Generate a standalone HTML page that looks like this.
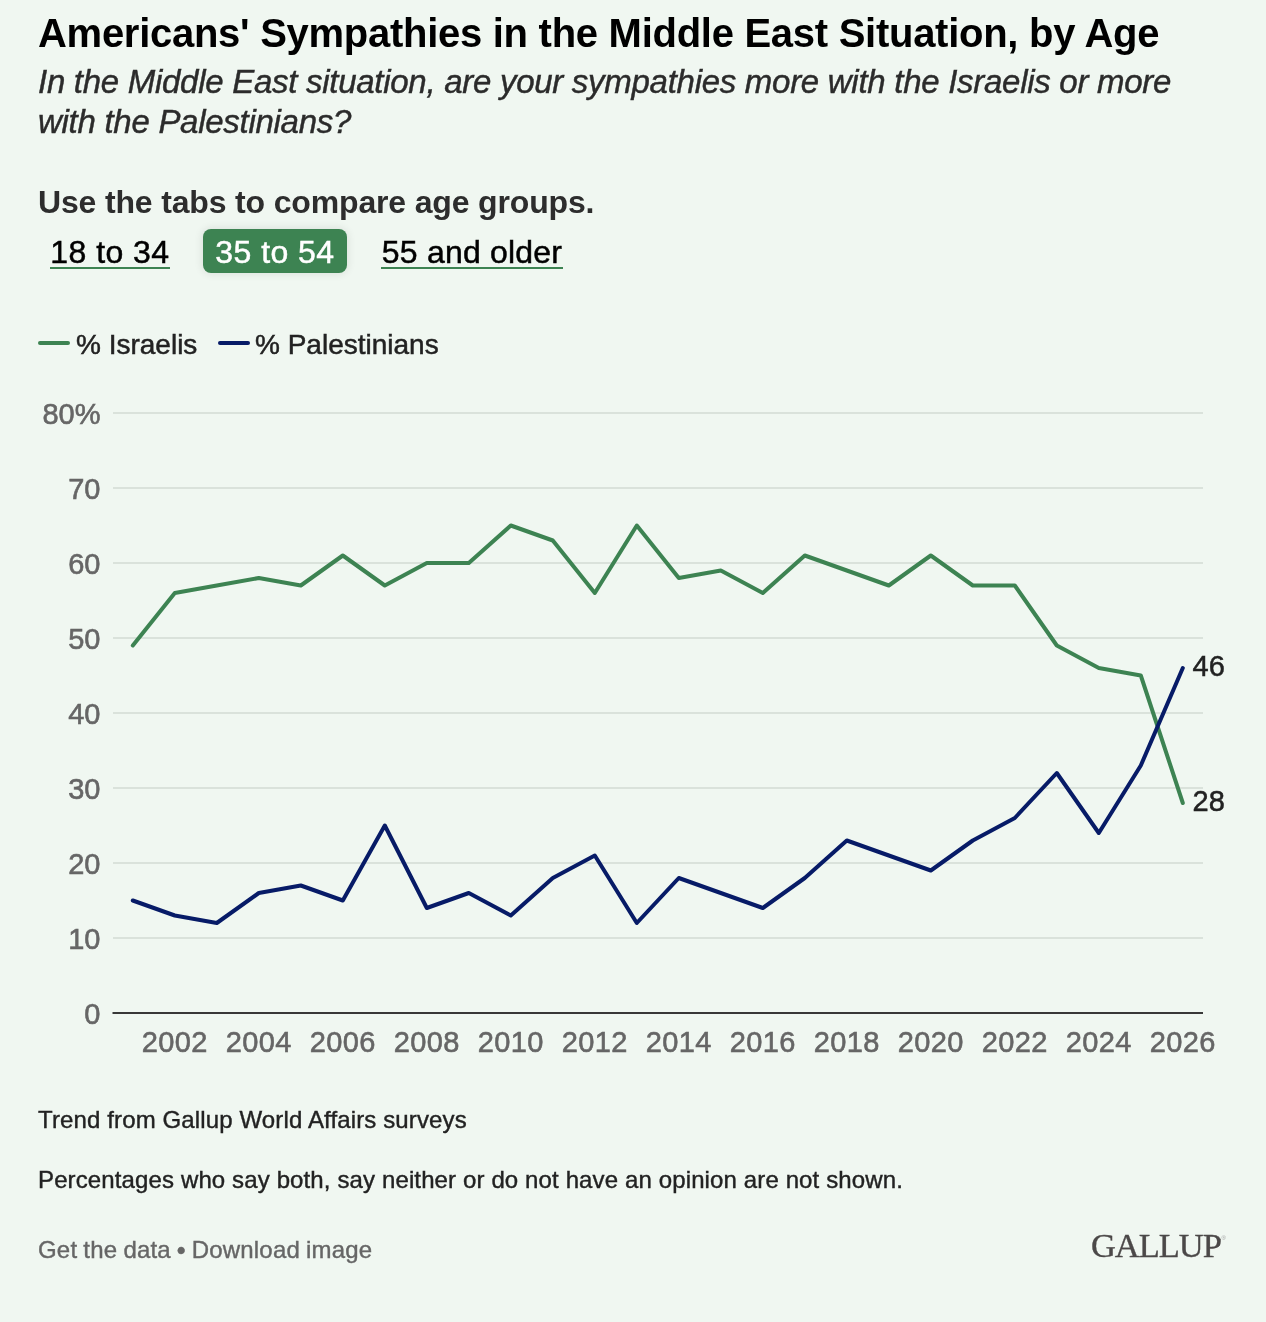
<!DOCTYPE html>
<html lang="en">
<head>
<meta charset="utf-8">
<title>Americans' Sympathies in the Middle East Situation, by Age</title>
<style>
html,body{margin:0;padding:0;}
body{width:1266px;height:1322px;background:#f0f7f1;overflow:hidden;position:relative;font-family:"Liberation Sans",sans-serif;color:#222;}
#page{position:absolute;left:0;top:0;width:1266px;height:1322px;will-change:transform;}
.abs{position:absolute;white-space:nowrap;margin:0;}
h1.abs{left:38px;top:10px;font-size:40px;line-height:46px;font-weight:bold;color:#000;letter-spacing:-0.275px;}
p.sub{left:38px;top:62px;font-size:33px;line-height:40px;font-style:italic;color:#2b2b2b;letter-spacing:-0.28px;-webkit-text-stroke:0.45px #2b2b2b;}
p.note{left:38px;top:183px;font-size:32px;line-height:38px;font-weight:bold;color:#2d2d2d;letter-spacing:-0.16px;}
.tab{font-size:32px;line-height:38px;color:#000;top:232.7px;letter-spacing:0.45px;-webkit-text-stroke:0.5px #000;}
.tab.t1{left:50px;width:120px;text-align:center;border-bottom:2px solid #3d8352;height:34.3px;}
.tab.t3{left:381px;width:182px;text-align:center;border-bottom:2px solid #3d8352;height:34.3px;letter-spacing:0.2px;}
.tab.t2{left:203px;top:229px;width:144px;height:44px;line-height:47.4px;text-align:center;background:#3d8352;color:#fff;border-radius:8px;box-shadow:0 0 9px 1px rgba(0,0,0,0.09);-webkit-text-stroke:0.5px #fff;}
.leg{font-size:28px;line-height:34px;top:327.7px;color:#222;-webkit-text-stroke:0.5px #222;}
.foot{font-size:24px;line-height:30px;left:38px;color:#222;-webkit-text-stroke:0.4px #222;}
.links{color:#666;-webkit-text-stroke:0.4px #666;}
.logo{font-family:"Liberation Serif",serif;font-size:34.5px;line-height:40px;left:1091px;top:1225.3px;color:#4b4848;letter-spacing:-1.05px;-webkit-text-stroke:0.35px #4b4848;}
.logo sup{font-family:"Liberation Sans",sans-serif;font-size:6px;letter-spacing:0;position:absolute;left:130.6px;top:-7px;color:#a0a0a0;-webkit-text-stroke:0;line-height:40px;}
svg{position:absolute;left:0;top:0;}
svg text{font-family:"Liberation Sans",sans-serif;}
</style>
</head>
<body>
<div id="page">
<h1 class="abs">Americans' Sympathies in the Middle East Situation, by Age</h1>
<p class="abs sub">In the Middle East situation, are your sympathies more with the Israelis or more<br>with the Palestinians?</p>
<p class="abs note">Use the tabs to compare age groups.</p>
<div class="abs tab t1">18 to 34</div>
<div class="abs tab t2">35 to 54</div>
<div class="abs tab t3">55 and older</div>
<div class="abs leg" style="left:76px">% Israelis</div>
<div class="abs leg" style="left:255px">% Palestinians</div>
<svg width="1266" height="1322" viewBox="0 0 1266 1322">
<g stroke-linecap="round" stroke-width="4" fill="none">
<line x1="40" x2="68" y1="343" y2="343" stroke="#3d8352"/>
<line x1="220" x2="248" y1="343" y2="343" stroke="#071b67"/>
</g>
<g stroke="#dae2db" stroke-width="2"><line x1="113" x2="1203" y1="938" y2="938"/><line x1="113" x2="1203" y1="863" y2="863"/><line x1="113" x2="1203" y1="788" y2="788"/><line x1="113" x2="1203" y1="713" y2="713"/><line x1="113" x2="1203" y1="638" y2="638"/><line x1="113" x2="1203" y1="563" y2="563"/><line x1="113" x2="1203" y1="488" y2="488"/><line x1="113" x2="1203" y1="413" y2="413"/></g>
<line x1="112.5" x2="1203" y1="1013" y2="1013" stroke="#383838" stroke-width="2"/>
<g font-size="29" fill="#666" stroke="#666" stroke-width="0.6"><text x="100.5" y="1024.2" text-anchor="end">0</text><text x="100.5" y="949.2" text-anchor="end">10</text><text x="100.5" y="874.2" text-anchor="end">20</text><text x="100.5" y="799.2" text-anchor="end">30</text><text x="100.5" y="724.2" text-anchor="end">40</text><text x="100.5" y="649.2" text-anchor="end">50</text><text x="100.5" y="574.2" text-anchor="end">60</text><text x="100.5" y="499.2" text-anchor="end">70</text><text x="100.5" y="424.2" text-anchor="end">80%</text><text x="174.8" y="1052.3" text-anchor="middle" letter-spacing="0.4">2002</text><text x="258.8" y="1052.3" text-anchor="middle" letter-spacing="0.4">2004</text><text x="342.8" y="1052.3" text-anchor="middle" letter-spacing="0.4">2006</text><text x="426.8" y="1052.3" text-anchor="middle" letter-spacing="0.4">2008</text><text x="510.8" y="1052.3" text-anchor="middle" letter-spacing="0.4">2010</text><text x="594.8" y="1052.3" text-anchor="middle" letter-spacing="0.4">2012</text><text x="678.8" y="1052.3" text-anchor="middle" letter-spacing="0.4">2014</text><text x="762.8" y="1052.3" text-anchor="middle" letter-spacing="0.4">2016</text><text x="846.8" y="1052.3" text-anchor="middle" letter-spacing="0.4">2018</text><text x="930.8" y="1052.3" text-anchor="middle" letter-spacing="0.4">2020</text><text x="1014.8" y="1052.3" text-anchor="middle" letter-spacing="0.4">2022</text><text x="1098.8" y="1052.3" text-anchor="middle" letter-spacing="0.4">2024</text><text x="1182.8" y="1052.3" text-anchor="middle" letter-spacing="0.4">2026</text></g>
<polyline points="132.8,645.5 174.8,593.0 216.8,585.5 258.8,578.0 300.8,585.5 342.8,555.5 384.8,585.5 426.8,563.0 468.8,563.0 510.8,525.5 552.8,540.5 594.8,593.0 636.8,525.5 678.8,578.0 720.8,570.5 762.8,593.0 804.8,555.5 846.8,570.5 888.8,585.5 930.8,555.5 972.8,585.5 1014.8,585.5 1056.8,645.5 1098.8,668.0 1140.8,675.5 1182.8,803.0" fill="none" stroke="#3d8352" stroke-width="4" stroke-linejoin="round" stroke-linecap="round"/>
<polyline points="132.8,900.5 174.8,915.5 216.8,923.0 258.8,893.0 300.8,885.5 342.8,900.5 384.8,825.5 426.8,908.0 468.8,893.0 510.8,915.5 552.8,878.0 594.8,855.5 636.8,923.0 678.8,878.0 720.8,893.0 762.8,908.0 804.8,878.0 846.8,840.5 888.8,855.5 930.8,870.5 972.8,840.5 1014.8,818.0 1056.8,773.0 1098.8,833.0 1140.8,765.5 1182.8,668.0" fill="none" stroke="#071b67" stroke-width="4" stroke-linejoin="round" stroke-linecap="round"/>
<g font-size="29" fill="#222" stroke="#222" stroke-width="0.5"><text x="1192.6" y="676.3">46</text><text x="1192.6" y="811.2">28</text></g>
</svg>
<p class="abs foot" style="top:1105px;letter-spacing:0.13px">Trend from Gallup World Affairs surveys</p>
<p class="abs foot" style="top:1165px;letter-spacing:0.125px">Percentages who say both, say neither or do not have an opinion are not shown.</p>
<p class="abs foot links" style="top:1235px;letter-spacing:0.2px;word-spacing:-0.8px">Get the data <b>•</b> Download image</p>
<div class="abs logo">GALLUP<sup>®</sup></div>
</div>
</body>
</html>
